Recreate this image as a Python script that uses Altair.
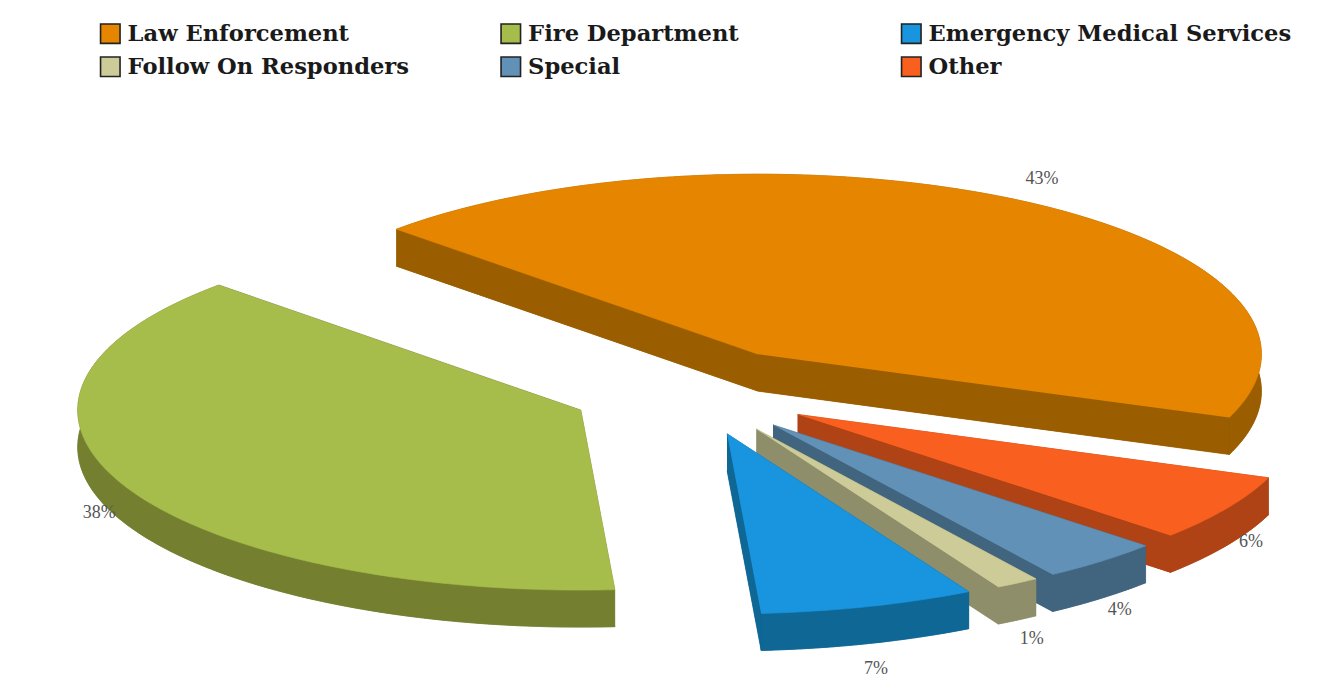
import math
import altair as alt
import pandas as pd

# Values in the order the slices run clockwise from the upper left
categories = ["Law Enforcement", "Other", "Special", "Follow On Responders", "Emergency Medical Services", "Fire Department"]
shares = [43.5, 6.0, 3.9, 1.4, 6.9, 38.3]
labels = ["43%", "6%", "4%", "1%", "7%", "38%"]
# Legend is filled column by column: this gives the reference's two rows of three
legend_order = ["Law Enforcement", "Follow On Responders", "Fire Department", "Special",
                "Emergency Medical Services", "Other"]
top_colors = {"Law Enforcement": "#E68600", "Fire Department": "#A6BD4C", "Emergency Medical Services": "#1995DF",
              "Follow On Responders": "#CDCC98", "Special": "#6191B6", "Other": "#F96020"}
wall_colors = {"Law Enforcement": "#9A5E00", "Fire Department": "#748030", "Emergency Medical Services": "#0F6795",
               "Follow On Responders": "#8E8F6A", "Special": "#41657E", "Other": "#AF4315"}

# Pie projection
CX, CY, RX, RY, DEPTH, EXPLODE, START = 692.5, 391.5, 503, 180, 37, 0.245, 224
PAGE_W, PAGE_H = 1314, 671

x_enc = alt.X("x:Q", axis=None, scale=alt.Scale(domain=[8, 8 + PAGE_W], nice=False, zero=False))
y_enc = alt.Y("y:Q", axis=None, scale=alt.Scale(domain=[8, 8 + PAGE_H], nice=False, zero=False, reverse=True))

layers = []
label_rows = []
cursor = START
for cat, share, lab in zip(categories, shares, labels):
    a0 = cursor
    a1 = cursor + share * 3.6
    cursor = a1
    mid = math.radians((a0 + a1) / 2)
    ax = CX + EXPLODE * RX * math.cos(mid)
    ay = CY + EXPLODE * RY * math.sin(mid)
    n = max(4, int(a1 - a0))
    arc = [(ax + RX * math.cos(math.radians(a0 + (a1 - a0) * i / n)),
            ay + RY * math.sin(math.radians(a0 + (a1 - a0) * i / n))) for i in range(n + 1)]
    top = [(ax, ay)] + arc
    drop = lambda pts: [(px, py + DEPTH) for px, py in pts]
    parts = {
        "bottom": drop(top),
        "edge0": [(ax, ay), arc[0], (arc[0][0], arc[0][1] + DEPTH), (ax, ay + DEPTH)],
        "edge1": [(ax, ay), arc[-1], (arc[-1][0], arc[-1][1] + DEPTH), (ax, ay + DEPTH)],
        "band": arc + drop(arc)[::-1],
    }
    wall_rows = [{"part": k, "i": i, "x": p[0], "y": p[1]} for k, pts in parts.items() for i, p in enumerate(pts)]
    layers.append(
        alt.Chart(pd.DataFrame(wall_rows))
        .mark_line(fill=wall_colors[cat], stroke=wall_colors[cat], strokeWidth=0.6)
        .encode(x=x_enc, y=y_enc, order="i:Q", detail="part:N")
    )
    top_rows = [{"cat": cat, "i": i, "x": p[0], "y": p[1]} for i, p in enumerate(top)]
    layers.append(
        alt.Chart(pd.DataFrame(top_rows))
        .mark_line(stroke=top_colors[cat], strokeWidth=0.6)
        .encode(
            x=x_enc, y=y_enc, order="i:Q",
            fill=alt.Fill(
                "cat:N",
                scale=alt.Scale(domain=legend_order, range=[top_colors[c] for c in legend_order]),
                legend=alt.Legend(
                    title=None, orient="none", legendX=91, legendY=14, columns=3, gridAlign="all",
                    symbolType="square", symbolSize=380, symbolStrokeColor="#222222", symbolStrokeWidth=1.6,
                    labelFont="DejaVu Serif", labelFontWeight="bold", labelFontSize=22.6, labelColor="#1a1a1a",
                    labelLimit=500, columnPadding=6.5, rowPadding=6.5, labelOffset=6,
                ),
            ),
        )
    )
    c, s = math.cos(mid), math.sin(mid)
    label_rows.append({
        "label": lab,
        "x": ax + RX * c + 28 * c,
        "y": ay + RY * s + 27 * s + 1.03 * DEPTH * max(s, 0),
    })

text = alt.Chart(pd.DataFrame(label_rows)).mark_text(
    font="Liberation Serif", fontSize=18, color="#555555"
).encode(x=x_enc, y=y_enc, text="label:N")

chart = alt.layer(*layers, text).properties(
    width=PAGE_W, height=PAGE_H, padding=0, autosize=alt.AutoSizeParams(type="none"),
    background="white",
).configure_view(stroke=None)

chart.save("out.html", embed_options={"renderer": "svg", "actions": False})
